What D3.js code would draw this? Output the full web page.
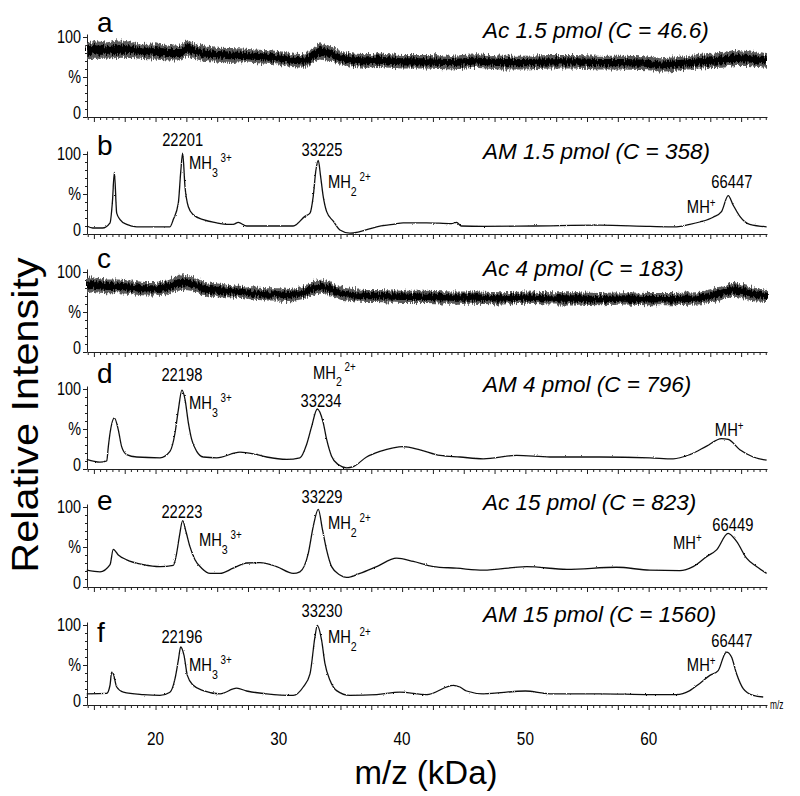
<!DOCTYPE html>
<html><head><meta charset="utf-8">
<script src="https://cdn.jsdelivr.net/npm/d3@7"></script>
<style>body{margin:0;background:#fff} svg{display:block}</style>
</head><body><svg id="chart" width="800" height="796"></svg>
<script>
// ---------------- DATA ----------------
const panelLetters = ["a","b","c","d","e","f"];
const panelTitles = ["Ac 1.5 pmol (C = 46.6)","AM 1.5 pmol (C = 358)","Ac 4 pmol (C = 183)",
                     "AM 4 pmol (C = 796)","Ac 15 pmol (C = 823)","AM 15 pmol (C = 1560)"];
const xTickLabels = [20,30,40,50,60];
const yTickValues = [0,50,100];
const yTickTexts = ["0","%","100"];

// noisy panels: [m/z kDa, centre %, half-width %]
const bandA = [[14.44,82,12],[15,84,13],[16,83,12],[17,85,13],[18,84,12],[19,82,11],[20,82,12],[21,80,11],
 [22,80,11],[22.6,86,12],[23.2,82,11],[24,79,11],[25,78,10],[26,77,11],[27,77,10],[28,76,10],[29,75,10],
 [30,74,10],[31,71,10],[32,70,10],[32.7,76,11],[33.3,82,12],[34,80,11],[35,74,10],[36,71,10],[37,70,10],
 [38,71,10],[40,69,10],[42,69,10],[44,68,10],[46,70,10],[48,68,10],[50,68,10],[52,69,10],[54,69,10],
 [56,68,10],[58,68,10],[60,67,10],[61,65,10],[62,66,10],[64,69,10],[66,71,11],[67,74,12],[68,73,11],[69.6,70,10]];
const bandC = [[14.44,83,11],[15,84,11],[16,82,10],[17,82,10],[18,81,10],[19,79,10],[20,79,10],[21,81,10],
 [21.8,86,11],[22.5,87,11],[23.2,84,10],[24,79,10],[25,77,10],[26,76,9],[27,75,9],[28,73,9],[29,72,9],
 [30,72,9],[31,71,9],[32,74,9],[32.8,80,10],[33.5,82,10],[34.2,79,10],[35,73,9],[36,71,9],[37,70,9],
 [38,70,9],[40,69,9],[42,69,9],[44,68,9],[46,68,9],[48,67,9],[50,68,9],[52,67,9],[54,67,9],[56,66,9],
 [58,67,9],[60,66,9],[62,66,9],[64,67,9],[65,70,10],[66,74,10],[66.8,78,10],[67.6,76,10],[68.5,72,10],[69.6,70,9]];

// clean spectra: [m/z kDa, %]
const specB = [[14.44,10],[14.9,7.5],[15.7,7.5],[16.31,14],[16.5,40],[16.66,77],[16.85,26],[17.12,18],[17.66,12],
 [18.47,9],[21.17,9],[21.44,18],[21.85,39],[22.04,77],[22.2,101],[22.39,59],[22.66,34],[23.06,24],[23.87,18],
 [24.96,14],[25.77,12],[26.3,12],[26.71,14.5],[27.39,10],[31.17,10],[32.12,22],[32.53,26],[32.79,47],[33.01,80],
 [33.2,92],[33.39,72],[33.6,47],[33.88,28],[34.42,16],[34.96,5],[35.77,1],[36.58,3],[37.94,9],[39.28,12],
 [40.09,14],[41.99,14],[44.0,13],[44.42,14.5],[44.8,10],[46.58,9.5],[50.64,10],[56.05,11],[60.1,9.5],[62.26,9],
 [63.34,12],[64.15,15],[65.23,21],[65.91,28],[66.45,48],[66.86,36],[67.4,22],[68.2,12],[69.57,9]];
const specD = [[14.42,12],[15.49,8.5],[16.04,10],[16.17,28],[16.31,45],[16.66,64],[16.98,49],[17.25,28],[17.66,18],
 [18.47,15],[20.36,14],[21.17,22],[21.58,45],[21.85,74],[22.14,98.5],[22.39,87],[22.66,58],[22.93,37],[23.34,22],
 [23.87,15],[24.96,14],[26.85,21],[27.93,19],[29.01,15],[30.64,12],[31.71,14],[32.26,31],[32.66,53],[33.12,75],
 [33.6,58],[33.88,37],[34.28,16],[34.82,5.6],[35.5,1.5],[36.04,3],[37.12,15],[38.2,22],[39.28,26.5],[40.09,28],
 [41.45,24],[43.07,17],[44.69,15],[46.58,12.7],[49.29,17],[51.99,15],[56.05,15],[60.1,14],[61.99,12.7],[63.34,18],
 [64.7,28.5],[65.91,38],[66.45,37],[67.4,24],[68.48,15],[69.57,11]];
const specE = [[14.42,21],[15.49,19],[16.31,28],[16.57,47],[16.98,40],[17.66,34],[19.01,28],[20.36,25.5],[21.44,27],
 [21.71,42],[21.93,63],[22.2,83],[22.47,69],[22.79,50.5],[23.2,34],[23.74,23.5],[24.42,17],[25.23,17],[26.3,23.5],
 [27.39,30],[28.47,30.5],[29.82,25.5],[31.17,17],[31.71,19],[32.39,42],[32.79,75.5],[33.2,97],[33.55,71],[33.88,46],
 [34.28,25.5],[34.96,15],[35.5,12],[36.58,17],[37.94,25.5],[39.56,36],[40.91,32],[42.53,25.5],[44.42,23.5],
 [46.58,21],[50.1,25.5],[53.35,22],[57.4,24.7],[60.1,21],[62.53,20.5],[63.61,25.5],[64.7,38],[65.51,46.4],
 [66.45,67],[67.13,57],[67.94,36],[68.75,25.5],[69.57,17]];
const specF = [[14.42,14],[16.04,14.5],[16.31,25],[16.44,41],[16.57,39],[16.85,22.5],[17.39,16],[19.01,13],[20.36,12],
 [21.17,16],[21.58,33],[21.85,56],[22.04,72.5],[22.31,62],[22.58,37],[23.06,24.6],[23.87,18],[25.23,14],[26.58,21],
 [27.39,17.5],[29.01,14],[31.17,12],[31.98,22.5],[32.53,39],[32.93,85],[33.12,99.6],[33.47,81],[33.74,52],[34.15,31],
 [34.69,18],[35.77,12],[37.94,13],[39.82,16],[41.99,13],[44.15,24.6],[44.69,22.5],[45.23,17.5],[46.58,14],[50.0,17.5],
 [51.99,14],[56.05,14],[60.1,13],[62.26,13],[63.34,18],[64.15,27],[64.97,37],[65.64,43],[66.18,64],[66.32,66],
 [66.72,60],[67.13,39],[67.67,20.5],[68.48,12],[69.29,10]];

// peak annotations: [main text, subscript, superscript, m/z, %, anchor]
const annB = [["22201","","",22.2,118,"middle"],["MH","3","3+",22.71,89,"start"],["33225","","",33.5,105,"middle"],
 ["MH","2","2+",33.98,65,"start"],["66447","","",66.75,65,"middle"],["MH","","+",63.1,34,"start"]];
const annD = [["22198","","",22.14,118,"middle"],["MH","3","3+",22.71,83,"start"],["MH","2","2+",32.77,121,"start"],
 ["33234","","",33.42,86,"middle"],["MH","","+",65.37,49,"start"]];
const annE = [["22223","","",22.14,94,"middle"],["MH","3","3+",23.52,59,"start"],["33229","","",33.5,113,"middle"],
 ["MH","2","2+",33.98,80,"start"],["66449","","",66.83,78,"middle"],["MH","","+",61.97,56,"start"]];
const annF = [["22196","","",22.14,85,"middle"],["MH","3","3+",22.71,50,"start"],["33230","","",33.5,118,"middle"],
 ["MH","2","2+",33.98,85,"start"],["66447","","",66.75,81,"middle"],["MH","","+",63.1,50,"start"]];

const panelBands = [bandA, null, bandC, null, null, null];
const panelSpectra = [null, specB, null, specD, specE, specF];
const panelAnnotations = [[], annB, [], annD, annE, annF];

// ---------------- LAYOUT ----------------
const FONT = "'Liberation Sans', Arial, Helvetica, sans-serif";
const xLeft = 87, xRight = 767;
const firstBase = 116.7, step = 117.6;
const titleOffsets = [79, 75, 76, 77, 77, 83];
const letterOffsets = [85, 79, 84, 86, 77, 63];

const svg = d3.select("#chart");
const defs = svg.append("defs");
const f = defs.append("filter").attr("id", "rough").attr("x", "-5%").attr("y", "-40%").attr("width", "110%").attr("height", "180%");
f.append("feTurbulence").attr("type", "fractalNoise").attr("baseFrequency", "0.9 0.1").attr("numOctaves", 2).attr("seed", 3).attr("result", "n");
f.append("feDisplacementMap").attr("in", "SourceGraphic").attr("in2", "n").attr("scale", 8).attr("xChannelSelector", "R").attr("yChannelSelector", "G");
const f2 = defs.append("filter").attr("id", "fine").attr("x", "-2%").attr("y", "-10%").attr("width", "104%").attr("height", "120%");
f2.append("feTurbulence").attr("type", "fractalNoise").attr("baseFrequency", "0.9 0.9").attr("numOctaves", 1).attr("seed", 7).attr("result", "n");
f2.append("feDisplacementMap").attr("in", "SourceGraphic").attr("in2", "n").attr("scale", 2.2).attr("xChannelSelector", "R").attr("yChannelSelector", "G");

const x = d3.scaleLinear().domain([14.44, 69.6]).range([xLeft, xRight]);
const majorTicks = d3.range(15, 69.6, 2.5);
const minorTicks = d3.range(14.5, 69.6, 0.5).filter(v => Math.abs(v/2.5 - Math.round(v/2.5)) > 1e-6);

function squeezed(g, px, py, str, size, sx, anchor) {
  return g.append("text").attr("transform", `translate(${px},${py}) scale(${sx},1)`)
    .attr("font-family", FONT).attr("font-size", size).attr("text-anchor", anchor || "start")
    .attr("fill", "#000").text(str);
}

panelLetters.forEach((letter, i) => {
  const base = Math.round(firstBase + i * step);
  const y = d3.scaleLinear().domain([0, 100]).range([base, base - 80]);
  const yAx = d3.scaleLinear().domain([0, 103.75]).range([base, base - 83]);
  const g = svg.append("g");

  // x axis
  g.append("g").attr("transform", `translate(0,${base})`)
    .call(d3.axisBottom(x).tickValues(minorTicks).tickSize(3).tickFormat("").tickSizeOuter(0))
    .call(s => s.selectAll("line,path").attr("stroke", "#222"));
  g.append("g").attr("transform", `translate(0,${base})`)
    .call(d3.axisBottom(x).tickValues(majorTicks).tickSize(5).tickFormat("").tickSizeOuter(0))
    .call(s => s.select("path").remove()).call(s => s.selectAll("line").attr("stroke", "#222"));

  // y axis
  g.append("g").attr("transform", `translate(${xLeft},0)`)
    .call(d3.axisLeft(yAx).tickValues(d3.range(0, 101, 10)).tickSize(2).tickFormat("").tickSizeOuter(0))
    .call(s => s.selectAll("line,path").attr("stroke", "#222"));
  g.append("g").attr("transform", `translate(${xLeft},0)`)
    .call(d3.axisLeft(yAx).tickValues(yTickValues).tickSize(4).tickFormat("").tickSizeOuter(0))
    .call(s => s.select("path").remove()).call(s => s.selectAll("line").attr("stroke", "#222"));
  yTickValues.forEach((v, k) => {
    squeezed(g, 81, y(v) - (v === 0 ? 4 : 0), yTickTexts[k], 18, 0.8, "end").attr("dy", "0.36em");
  });

  // data
  const band = panelBands[i];
  if (band) {
    const outer = d3.area().x(d => x(d[0])).y0(d => y(d[1] - d[2] * 0.85)).y1(d => y(d[1] + d[2] * 0.85));
    const inner = d3.area().x(d => x(d[0])).y0(d => y(d[1] - d[2] * 0.45)).y1(d => y(d[1] + d[2] * 0.45));
    g.append("path").datum(band).attr("d", outer).attr("fill", "#5a5a5a").attr("filter", "url(#rough)");
    g.append("path").datum(band).attr("d", inner).attr("fill", "#000").attr("filter", "url(#rough)");
  }
  const spec = panelSpectra[i];
  if (spec) {
    const line = d3.line().x(d => x(d[0])).y(d => y(d[1])).curve(d3.curveMonotoneX);
    g.append("path").datum(spec).attr("d", line).attr("fill", "none")
      .attr("stroke", "#111").attr("stroke-width", 1.3).attr("stroke-linejoin", "round")
      .attr("filter", "url(#fine)");
  }

  // annotations
  panelAnnotations[i].forEach(a => {
    const [main, sub, sup, mz, pct, anchor] = a;
    const t = squeezed(g, x(mz), y(pct), main, 18, 0.82, anchor).attr("dy", "0.36em");
    if (sub) t.append("tspan").attr("font-size", 13).attr("dy", "0.6em").text(sub);
    if (sup) t.append("tspan").attr("font-size", 12).attr("dy", sub ? "-1.25em" : "-0.55em").text((sub ? "\u00a0" : "") + sup);
  });

  // panel letter & title
  g.append("text").attr("x", 97).attr("y", base - letterOffsets[i]).attr("font-family", FONT)
    .attr("font-size", 28).text(letter);
  g.append("text").attr("x", 483).attr("y", base - titleOffsets[i]).attr("font-family", FONT)
    .attr("font-size", 22.5).attr("font-style", "italic").text(panelTitles[i]);

  if (i === panelLetters.length - 1) {
    xTickLabels.forEach(v => squeezed(g, x(v), base + 40, String(v), 18, 0.85, "middle"));
    squeezed(g, xRight + 3, base + 4, "m/z", 12, 0.7, "start");
  }
});

// axis titles
svg.append("text").attr("transform", "translate(38,415) rotate(-90) scale(1.12,1)").attr("text-anchor", "middle")
  .attr("font-family", FONT).attr("font-size", 37).text("Relative Intensity");
svg.append("text").attr("x", 426).attr("y", 784).attr("text-anchor", "middle")
  .attr("font-family", FONT).attr("font-size", 33).text("m/z (kDa)");
</script></body></html>
